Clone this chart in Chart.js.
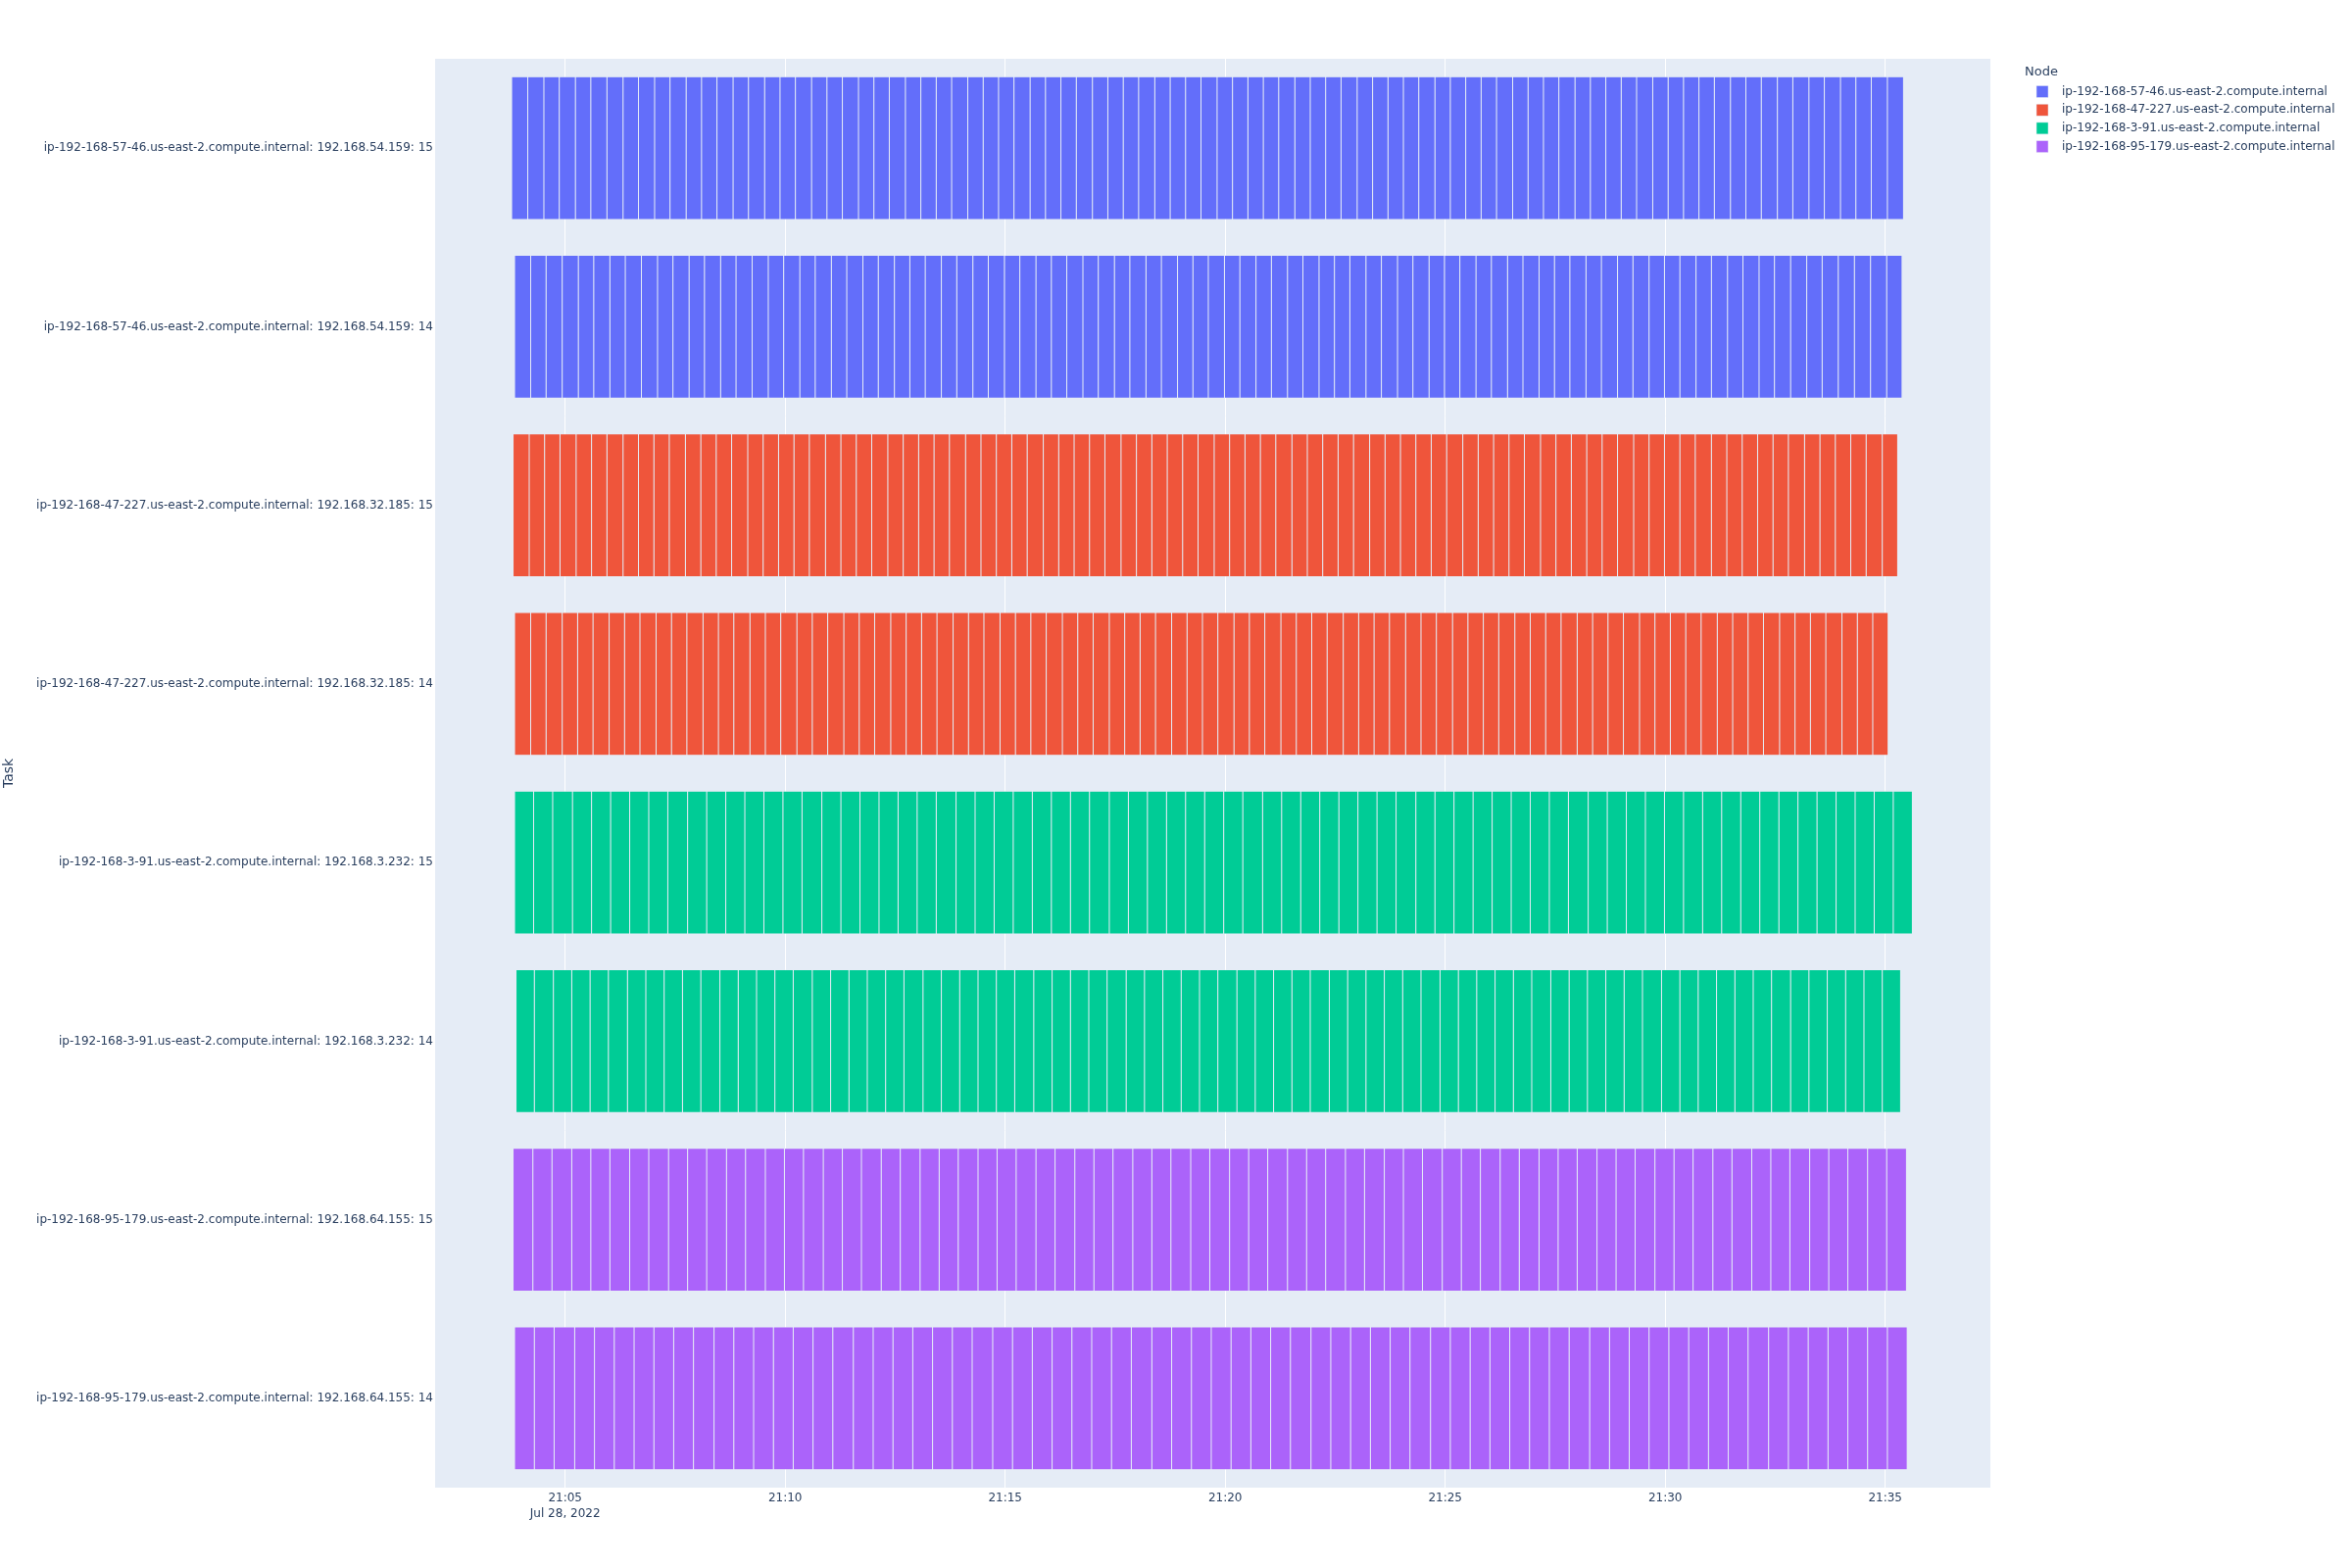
<!DOCTYPE html>
<html>
<head>
<meta charset="utf-8">
<script src="https://cdn.jsdelivr.net/npm/chart.js@4/dist/chart.umd.min.js"></script>
<style>
html,body{margin:0;padding:0;background:#fff;}
#c{display:block;}
</style>
</head>
<body>
<canvas id="c" width="2400" height="1600" style="width:2400px;height:1600px"></canvas>
<script>
// ---- data (times in seconds after 21:00:00, Jul 28, 2022) ----
const categories = [
  "ip-192-168-57-46.us-east-2.compute.internal: 192.168.54.159: 15",
  "ip-192-168-57-46.us-east-2.compute.internal: 192.168.54.159: 14",
  "ip-192-168-47-227.us-east-2.compute.internal: 192.168.32.185: 15",
  "ip-192-168-47-227.us-east-2.compute.internal: 192.168.32.185: 14",
  "ip-192-168-3-91.us-east-2.compute.internal: 192.168.3.232: 15",
  "ip-192-168-3-91.us-east-2.compute.internal: 192.168.3.232: 14",
  "ip-192-168-95-179.us-east-2.compute.internal: 192.168.64.155: 15",
  "ip-192-168-95-179.us-east-2.compute.internal: 192.168.64.155: 14"
];
const nodes = [
  "ip-192-168-57-46.us-east-2.compute.internal",
  "ip-192-168-47-227.us-east-2.compute.internal",
  "ip-192-168-3-91.us-east-2.compute.internal",
  "ip-192-168-95-179.us-east-2.compute.internal"
];
const nodeColors = ["#636efa", "#EF553B", "#00cc96", "#ab63fa"];
const rowNode = [0, 0, 1, 1, 2, 2, 3, 3];
const rowStarts = [227, 231, 229, 231, 231, 233, 229, 231];

// task durations (s) for each row, in order
const blue15 = [22,22,21,22,21,22,22,21,22,21, 22,21,21,22,21,22,21,21,22,21, 21,22,21,21,22,21,21,21,22,21, 21,21,22,21,21,21,22,21,21,21, 22,21,21,21,22,21,21,21,21,22, 21,21,21,22,21,21,21,21,22,21, 21,21,21,22,21,21,21,22,21,21, 21,21,22,21,21,21,21,22,21,21, 22,21,22,21,22,21,21,22,22];
const blue14 = [22,21,22,22,21,22,21,22,22,21, 22,21,22,21,22,22,21,22,21,22, 21,22,21,22,21,21,22,21,22,21, 22,21,22,21,21,22,21,22,21,22, 21,22,21,21,22,21,22,21,22,21, 22,21,21,22,21,22,21,22,21,21, 22,21,22,21,22,21,21,22,21,22, 21,22,21,21,22,21,22,21,22,21, 22,22,21,22,22,22,22,21];
const red15 = [22,21,21,22,21,21,22,21,21,21, 22,21,21,21,22,21,21,21,21,22, 21,21,21,22,21,21,21,21,22,21, 21,21,21,22,21,21,21,21,22,21, 21,21,21,21,22,21,21,21,21,22, 21,21,21,21,22,21,21,21,21,21, 22,21,21,21,21,22,21,21,21,21, 21,22,21,21,21,21,22,21,21,21, 21,21,22,21,21,21,21,22,21];
const red14 = [22,21,22,21,21,22,21,21,22,21, 21,22,21,21,22,21,21,22,21,21, 22,21,21,22,21,21,21,22,21,21, 22,21,21,21,22,21,21,22,21,21, 21,22,21,21,21,22,21,21,22,21, 21,21,22,21,21,21,22,21,21,22, 21,21,21,22,21,21,21,22,21,21, 21,22,21,21,21,21,22,21,21,21, 22,21,21,21,22,21,21,21];
const green15 = [26,26,27,26,26,26,26,26,27,26, 26,26,26,26,26,27,26,26,26,26, 26,26,27,26,26,26,26,26,26,26, 27,26,26,26,26,26,26,26,27,26, 26,26,26,26,26,26,27,26,26,26, 26,26,26,26,26,27,26,26,26,26, 26,26,26,26,26,26,26,26,26,26, 26,26,26];
const green14 = [25,26,25,25,25,26,25,25,25,25, 26,25,25,25,25,26,25,25,25,25, 25,26,25,25,25,25,25,26,25,25, 25,25,26,25,25,25,25,25,26,25, 25,25,25,26,25,25,25,25,25,26, 25,25,25,25,25,26,25,25,25,25, 25,26,25,25,25,25,25,25,26,25, 25,25,25,25,25];
const purple15 = [27,26,27,26,26,27,26,27,26,26, 27,26,27,26,26,27,26,26,27,26, 27,26,26,27,26,26,27,26,27,26, 26,27,26,26,27,26,27,26,26,27, 26,26,27,26,27,26,26,27,26,26, 27,26,27,26,26,27,26,26,27,26, 26,27,26,27,26,26,27,26,26,27, 26,27];
const purple14 = [27,27,28,27,27,27,27,27,27,28, 27,27,27,27,27,27,28,27,27,27, 27,27,27,28,27,27,27,27,27,27, 27,28,27,27,27,27,27,27,27,28, 27,27,27,27,27,28,27,27,27,27, 27,27,27,28,27,27,27,27,27,27, 27,27,28,27,27,27,27,27,27,27];
const rowDurations = [blue15, blue14, red15, red14, green15, green14, purple15, purple14];

const tickValues = [300, 600, 900, 1200, 1500, 1800, 2100];
const dateLabel = "Jul 28, 2022";
const axisMin = 122.7, axisMax = 2243.4;

// ---- build floating-bar segments ----
const rowSegments = rowDurations.map((durs, r) => {
  let t = rowStarts[r];
  return durs.map(d => { const seg = [t, t + d]; t += d; return seg; });
});
const maxSegs = Math.max(...rowSegments.map(s => s.length));
const rowColors = rowNode.map(n => nodeColors[n]);
const datasets = [];
for (let k = 0; k < maxSegs; k++) {
  datasets.push({
    data: rowSegments.map(s => s[k] || null),
    backgroundColor: rowColors,
    borderColor: "#E5ECF6",
    borderWidth: 0.5,
    borderSkipped: false,
    grouped: false,
    barPercentage: 0.8,
    categoryPercentage: 1.0
  });
}

function fmtTime(v) {
  const h = 21 + Math.floor(v / 3600);
  const m = Math.floor((v % 3600) / 60);
  return h + ":" + String(m).padStart(2, "0");
}

const FONT = "'DejaVu Sans', sans-serif";
const TXT = "#2a3f5f";

const bgPlugin = {
  id: "bg",
  beforeDraw(chart) {
    const {ctx, chartArea: a} = chart;
    ctx.save();
    ctx.fillStyle = "#E5ECF6";
    ctx.fillRect(a.left, a.top, a.right - a.left, a.bottom - a.top);
    ctx.restore();
  },
  afterDraw(chart) {
    const {ctx, chartArea: a} = chart;
    ctx.save();
    // y-axis title
    ctx.fillStyle = TXT;
    ctx.font = "14px " + FONT;
    ctx.textAlign = "center";
    ctx.textBaseline = "middle";
    ctx.translate(9, (a.top + a.bottom) / 2);
    ctx.rotate(-Math.PI / 2);
    ctx.fillText("Task", 0, 0);
    ctx.restore();
    // legend
    ctx.save();
    ctx.fillStyle = TXT;
    ctx.font = "13px " + FONT;
    ctx.textAlign = "left";
    ctx.textBaseline = "middle";
    ctx.fillText("Node", 2066, 74);
    ctx.font = "12px " + FONT;
    nodes.forEach((n, i) => {
      const y = 93.5 + i * 18.7;
      ctx.fillStyle = nodeColors[i];
      ctx.fillRect(2078, y - 6, 12, 12);
      ctx.strokeStyle = "#E5ECF6";
      ctx.lineWidth = 0.5;
      ctx.strokeRect(2078, y - 6, 12, 12);
      ctx.fillStyle = TXT;
      ctx.fillText(n, 2104, y);
    });
    ctx.restore();
  }
};

new Chart(document.getElementById("c"), {
  type: "bar",
  data: { labels: categories, datasets },
  plugins: [bgPlugin],
  options: {
    indexAxis: "y",
    responsive: false,
    animation: false,
    devicePixelRatio: 1,
    layout: { padding: { top: 60, right: 369, bottom: 0, left: 0 } },
    plugins: { legend: { display: false }, tooltip: { enabled: false } },
    scales: {
      x: {
        type: "linear",
        min: axisMin,
        max: axisMax,
        grid: { color: "#ffffff", lineWidth: 1, drawTicks: false },
        border: { display: false },
        afterBuildTicks: (s) => { s.ticks = tickValues.map(v => ({ value: v })); },
        afterFit: (s) => { s.height = 82; },
        ticks: {
          autoSkip: false,
          maxRotation: 0,
          padding: 3,
          color: TXT,
          font: { family: FONT, size: 12, lineHeight: 1.35 },
          callback: (v, i) => i === 0 ? [fmtTime(v), dateLabel] : fmtTime(v)
        }
      },
      y: {
        type: "category",
        grid: { display: false, drawTicks: false },
        border: { display: false },
        afterFit: (s) => { s.width = 444; },
        ticks: {
          padding: 2,
          color: TXT,
          font: { family: FONT, size: 12 }
        }
      }
    }
  }
});
</script>
</body>
</html>
